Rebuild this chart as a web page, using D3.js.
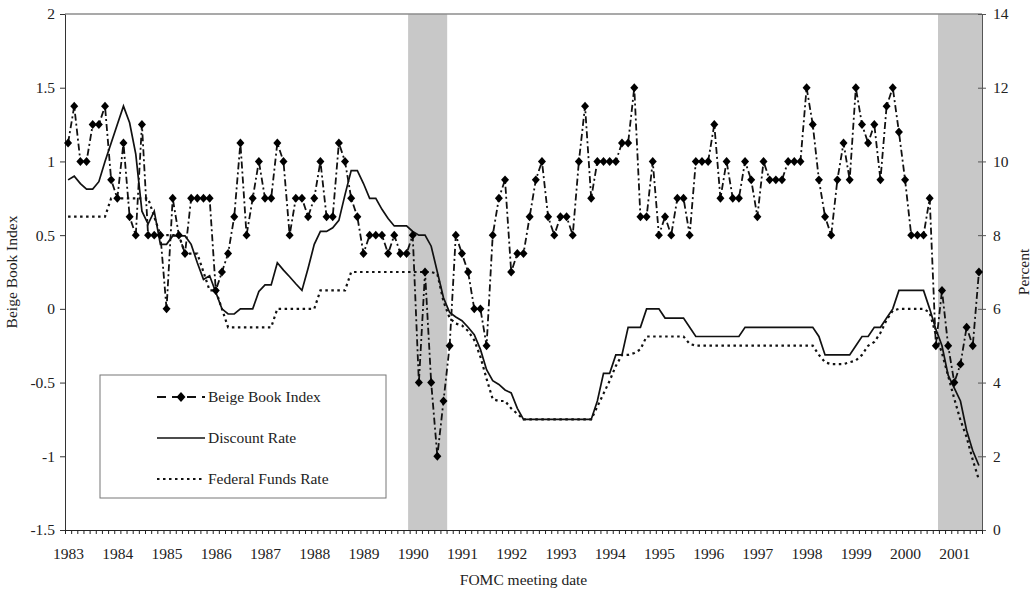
<!DOCTYPE html>
<html>
<head>
<meta charset="utf-8">
<script src="https://cdn.jsdelivr.net/npm/d3@7"></script>
<style>
  body { margin: 0; background: #fff; }
  text { font-family: "Liberation Serif", "Times New Roman", serif; }
</style>
</head>
<body>
<svg id="chart" width="1034" height="590"></svg>
<script>
// Beige Book index at each FOMC meeting (8 a year, Jan 1983 on)
var beige = [
  1.125, 1.375, 1.0, 1.0, 1.25, 1.25, 1.375, 0.875, 0.75, 1.125,
  0.625, 0.5, 1.25, 0.5, 0.5, 0.5, 0.0, 0.75, 0.5, 0.375,
  0.75, 0.75, 0.75, 0.75, 0.125, 0.25, 0.375, 0.625, 1.125, 0.5,
  0.75, 1.0, 0.75, 0.75, 1.125, 1.0, 0.5, 0.75, 0.75, 0.625,
  0.75, 1.0, 0.625, 0.625, 1.125, 1.0, 0.75, 0.625, 0.375, 0.5,
  0.5, 0.5, 0.375, 0.5, 0.375, 0.375, 0.5, -0.5, 0.25, -0.5,
  -1.0, -0.625, -0.25, 0.5, 0.375, 0.25, 0.0, 0.0, -0.25, 0.5,
  0.75, 0.875, 0.25, 0.375, 0.375, 0.625, 0.875, 1.0, 0.625, 0.5,
  0.625, 0.625, 0.5, 1.0, 1.375, 0.75, 1.0, 1.0, 1.0, 1.0,
  1.125, 1.125, 1.5, 0.625, 0.625, 1.0, 0.5, 0.625, 0.5, 0.75,
  0.75, 0.5, 1.0, 1.0, 1.0, 1.25, 0.75, 1.0, 0.75, 0.75,
  1.0, 0.875, 0.625, 1.0, 0.875, 0.875, 0.875, 1.0, 1.0, 1.0,
  1.5, 1.25, 0.875, 0.625, 0.5, 0.875, 1.125, 0.875, 1.5, 1.25,
  1.125, 1.25, 0.875, 1.375, 1.5, 1.2, 0.875, 0.5, 0.5, 0.5,
  0.75, -0.25, 0.125, -0.25, -0.5, -0.375, -0.125, -0.25, 0.25
]

// percent, right axis
var discount = [
  9.5, 9.6, 9.4, 9.25, 9.25, 9.45, 10.0, 10.5, 11.0, 11.5,
  11.05, 10.2, 8.65, 8.3, 8.65, 7.75, 7.75, 7.98, 7.98, 7.98,
  7.75, 7.25, 6.8, 6.9, 6.45, 6.0, 5.86, 5.86, 6.0, 6.0,
  6.0, 6.47, 6.65, 6.65, 7.25, 7.05, 6.87, 6.68, 6.5, 7.1,
  7.75, 8.1, 8.1, 8.2, 8.4, 9.1, 9.75, 9.75, 9.4, 9.0,
  9.0, 8.7, 8.45, 8.25, 8.25, 8.25, 8.1, 8.0, 8.0, 7.7,
  7.0, 6.3, 5.9, 5.78, 5.68, 5.5, 5.3, 4.9, 4.35, 4.05,
  3.95, 3.8, 3.72, 3.3, 3.0, 3.0, 3.0, 3.0, 3.0, 3.0,
  3.0, 3.0, 3.0, 3.0, 3.0, 3.0, 3.5, 4.25, 4.25, 4.75,
  4.75, 5.5, 5.5, 5.5, 6.0, 6.0, 6.0, 5.75, 5.75, 5.75,
  5.75, 5.5, 5.25, 5.25, 5.25, 5.25, 5.25, 5.25, 5.25, 5.25,
  5.5, 5.5, 5.5, 5.5, 5.5, 5.5, 5.5, 5.5, 5.5, 5.5,
  5.5, 5.5, 5.25, 4.75, 4.75, 4.75, 4.75, 4.75, 5.0, 5.25,
  5.25, 5.5, 5.5, 5.75, 6.0, 6.5, 6.5, 6.5, 6.5, 6.5,
  6.0, 5.45, 5.0, 4.2, 3.85, 3.5, 2.7, 2.15, 1.75
]

var fedFunds = [
  8.5, 8.5, 8.5, 8.5, 8.5, 8.5, 8.5, 9.0, 9.0, 9.0,
  9.0, 9.0, 9.0, 9.0, 8.5, 8.0, 8.0, 8.0, 8.0, 7.5,
  7.5, 7.5, 7.0, 6.5, 6.5, 6.0, 5.5, 5.5, 5.5, 5.5,
  5.5, 5.5, 5.5, 5.5, 6.0, 6.0, 6.0, 6.0, 6.0, 6.0,
  6.0, 6.5, 6.5, 6.5, 6.5, 6.5, 7.0, 7.0, 7.0, 7.0,
  7.0, 7.0, 7.0, 7.0, 7.0, 7.0, 7.0, 7.0, 7.0, 7.0,
  6.95, 6.2, 5.75, 5.6, 5.55, 5.4, 5.15, 4.7, 4.1, 3.55,
  3.5, 3.5, 3.3, 3.15, 3.0, 3.0, 3.0, 3.0, 3.0, 3.0,
  3.0, 3.0, 3.0, 3.0, 3.0, 3.0, 3.35, 3.7, 4.05, 4.45,
  4.75, 4.75, 4.8, 4.9, 5.25, 5.25, 5.25, 5.25, 5.25, 5.25,
  5.25, 5.05, 5.0, 5.0, 5.0, 5.0, 5.0, 5.0, 5.0, 5.0,
  5.0, 5.0, 5.0, 5.0, 5.0, 5.0, 5.0, 5.0, 5.0, 5.0,
  5.0, 5.0, 4.75, 4.55, 4.5, 4.5, 4.5, 4.55, 4.6, 4.75,
  5.0, 5.1, 5.35, 5.7, 5.95, 6.0, 6.0, 6.0, 6.0, 6.0,
  5.9, 5.3, 4.8, 4.18, 3.56, 2.98, 2.52, 1.9, 1.36
]

var years = [1983, 1984, 1985, 1986, 1987, 1988, 1989, 1990, 1991, 1992,
             1993, 1994, 1995, 1996, 1997, 1998, 1999, 2000, 2001]
var leftTicks  = [-1.5, -1, -0.5, 0, 0.5, 1, 1.5, 2]
var rightTicks = [0, 2, 4, 6, 8, 10, 12, 14]

// recession bands, in meeting-index units
var recessions = [[55.25, 61.6], [141.35, 148.5]]

var plotL = 65, plotR = 982, plotT = 14, plotB = 530
var n = beige.length
var fs = 15.5

var x  = d3.scaleLinear().domain([-0.5, n - 0.5]).range([plotL, plotR])
var yL = d3.scaleLinear().domain([-1.5, 2]).range([plotB, plotT])
var yR = d3.scaleLinear().domain([0, 14]).range([plotB, plotT])

var svg = d3.select('#chart')

svg.selectAll('rect.rec')
    .data(recessions)
    .join('rect')
    .attr('class', 'rec')
    .attr('x', function(d) { return x(d[0]) })
    .attr('width', function(d) { return x(d[1]) - x(d[0]) })
    .attr('y', plotT)
    .attr('height', plotB - plotT)
    .attr('fill', '#c8c8c8')

// plot area top border
svg.append('line')
    .attr('x1', plotL).attr('x2', plotR)
    .attr('y1', plotT).attr('y2', plotT)
    .style('stroke', '#8c8c8c')
    .style('stroke-width', 1.5)

function styleAxis(g) {
  g.attr('font-size', fs).attr('font-family', '"Liberation Serif", serif')
  g.selectAll('text').attr('fill', '#222')
}

svg.append('g')
    .attr('transform', 'translate(' + plotL + ',0)')
    .call(d3.axisLeft(yL).tickValues(leftTicks).tickSize(5).tickSizeOuter(0)
          .tickPadding(5).tickFormat(function(d) { return String(d) }))
    .call(styleAxis)
    .call(function(g) { g.selectAll('path, line').style('stroke', '#333') })

var rAxis = svg.append('g')
    .attr('transform', 'translate(' + plotR + ',0)')
    .call(d3.axisRight(yR).tickValues(rightTicks).tickSize(4).tickSizeOuter(0)
          .tickPadding(7))
    .call(styleAxis)
rAxis.selectAll('.tick line').attr('x1', -4)
rAxis.selectAll('path, line').style('stroke', '#555')

// one small tick between each pair of meetings
svg.append('g')
    .attr('transform', 'translate(0,' + plotB + ')')
    .call(d3.axisBottom(x).tickValues(d3.range(n + 1).map(function(i) { return i - 0.5 }))
          .tickSize(4).tickSizeOuter(0).tickFormat(''))
    .call(function(g) { g.selectAll('path, line').style('stroke', '#222') })

svg.append('g')
    .attr('transform', 'translate(0,' + plotB + ')')
    .call(d3.axisBottom(x).tickValues(years.map(function(y) { return (y - 1983) * 8 }))
          .tickSize(0).tickPadding(18).tickFormat(function(d, i) { return years[i] }))
    .call(styleAxis)
    .call(function(g) { g.select('.domain').remove() })

var lineR = d3.line()
    .x(function(d, i) { return x(i) })
    .y(function(d) { return yR(d) })

svg.append('path')
    .datum(fedFunds)
    .attr('d', lineR)
    .attr('fill', 'none')
    .style('stroke', '#111')
    .style('stroke-width', 2.2)
    .style('stroke-dasharray', '2.5,3.5')

svg.append('path')
    .datum(discount)
    .attr('d', lineR)
    .attr('fill', 'none')
    .style('stroke', '#111')
    .style('stroke-width', 1.7)

var lineL = d3.line()
    .x(function(d, i) { return x(i) })
    .y(function(d) { return yL(d) })

svg.append('path')
    .datum(beige)
    .attr('d', lineL)
    .attr('fill', 'none')
    .style('stroke', '#111')
    .style('stroke-width', 1.8)
    .style('stroke-dasharray', '7,3,2,3')

var diamond = {
  draw: function(ctx, size) {
    var r = Math.sqrt(size) / 2
    ctx.moveTo(0, -r * 1.12)
    ctx.lineTo(r, 0)
    ctx.lineTo(0, r * 1.12)
    ctx.lineTo(-r, 0)
    ctx.closePath()
  }
}
var sym = d3.symbol().type(diamond).size(64)

svg.selectAll('path.mark')
    .data(beige)
    .join('path')
    .attr('class', 'mark')
    .attr('d', sym)
    .attr('transform', function(d, i) { return 'translate(' + x(i) + ',' + yL(d) + ')' })
    .attr('fill', '#000')

// axis titles
svg.append('text')
    .attr('transform', 'translate(17,272) rotate(-90)')
    .attr('text-anchor', 'middle')
    .attr('font-size', fs)
    .attr('fill', '#222')
    .text('Beige Book Index')

svg.append('text')
    .attr('transform', 'translate(1029,272) rotate(-90)')
    .attr('text-anchor', 'middle')
    .attr('font-size', fs)
    .attr('fill', '#222')
    .text('Percent')

svg.append('text')
    .attr('x', (plotL + plotR) / 2)
    .attr('y', 585)
    .attr('text-anchor', 'middle')
    .attr('font-size', fs)
    .attr('fill', '#222')
    .text('FOMC meeting date')

// legend
var legend = svg.append('g')
legend.append('rect')
    .attr('x', 100).attr('y', 375)
    .attr('width', 286).attr('height', 123)
    .attr('fill', '#fff')
    .style('stroke', '#777')

var legendItems = [
  { name: 'Beige Book Index', dash: '9,6', w: 1.8, mark: true },
  { name: 'Discount Rate', dash: null, w: 1.7, mark: false },
  { name: 'Federal Funds Rate', dash: '2.5,3.5', w: 2.2, mark: false }
]

legendItems.forEach(function(d, i) {
  var cy = 397 + i * 41
  legend.append('line')
      .attr('x1', 157).attr('x2', 205)
      .attr('y1', cy).attr('y2', cy)
      .style('stroke', '#111')
      .style('stroke-width', d.w)
      .style('stroke-dasharray', d.dash)
  if (d.mark) {
    legend.append('path')
        .attr('d', d3.symbol().type(diamond).size(80))
        .attr('transform', 'translate(181,' + cy + ')')
        .attr('fill', '#000')
  }
  legend.append('text')
      .attr('x', 208).attr('y', cy + 5)
      .attr('font-size', fs)
      .attr('fill', '#222')
      .text(d.name)
})
</script>
</body>
</html>
